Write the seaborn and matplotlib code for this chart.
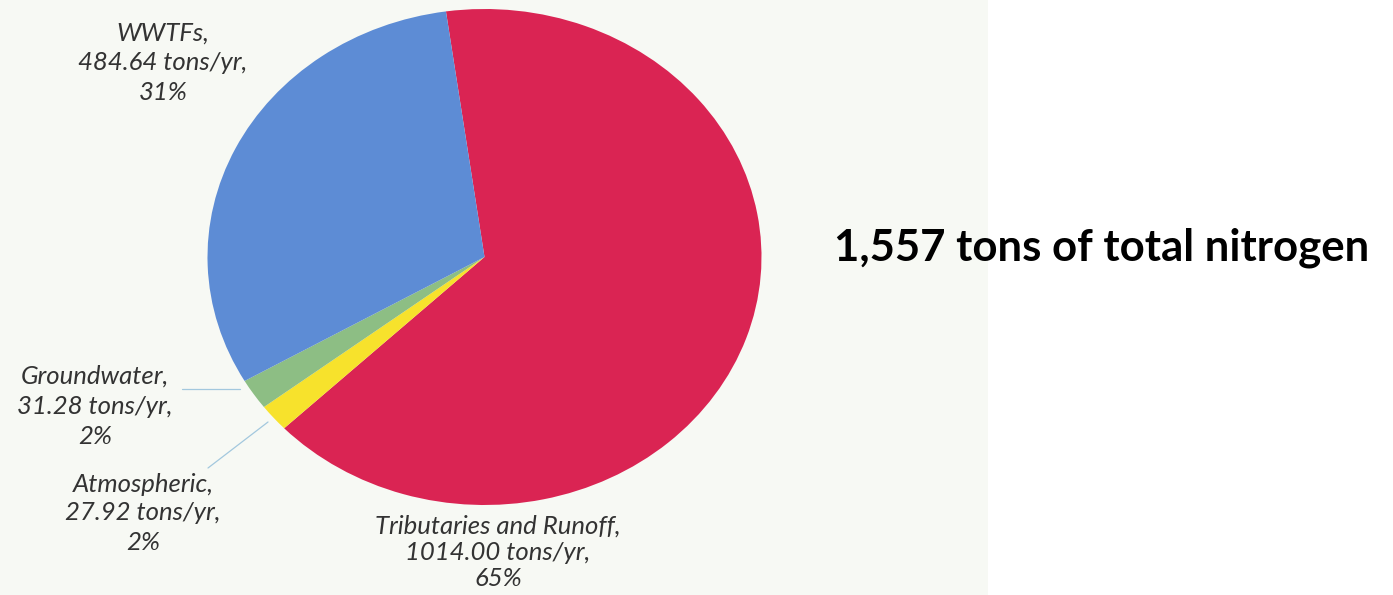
import matplotlib
matplotlib.use("Agg")
import matplotlib.pyplot as plt
from matplotlib.lines import Line2D
from matplotlib.patches import Rectangle
import seaborn as sns

# ---- data ----
sources = ["Tributaries and Runoff", "Atmospheric", "Groundwater", "WWTFs"]
tons = [1014.00, 27.92, 31.28, 484.64]
percents = [65, 2, 2, 31]
colors = ["#DA2453", "#F7E22C", "#8DBE84", "#5D8CD5"]
total_label = "1,557 tons of total nitrogen"

sns.set_theme(style="white")
plt.rcParams["font.family"] = ["Lato", "DejaVu Sans"]

W, H = 1393, 595
fig = plt.figure(figsize=(W / 100, H / 100), dpi=100)
fig.patch.set_facecolor("white")
# scanned page background on the left part
fig.add_artist(Rectangle((0, 0), 988 / W, 1, transform=fig.transFigure,
                         facecolor="#F7F9F4", edgecolor="none", zorder=0))

def fx(x):
    return x / W

def fy(y):
    return 1 - y / H

# ellipse bounding box of the pie (pixels)
x0, x1, y0, y1 = 207.5, 761.5, 9, 505
ax = fig.add_axes([fx(x0), fy(y1), (x1 - x0) / W, (y1 - y0) / H])
ax.pie(tons, colors=colors, startangle=98, counterclock=False,
       wedgeprops=dict(linewidth=0))
ax.set_aspect("auto")
ax.set_xlim(-1, 1)
ax.set_ylim(-1, 1)
ax.axis("off")
ax.patch.set_alpha(0)

# labels: (center x, first line y, line step)
label_pos = {
    "WWTFs": (163, 33, 29.5),
    "Groundwater": (95, 376, 30),
    "Atmospheric": (143, 484, 29),
    "Tributaries and Runoff": (498, 526, 26),
}
txt_color = "#333333"
for name, t, p in zip(sources, tons, percents):
    cx, y, step = label_pos[name]
    lines = [f"{name},", f"{t:.2f} tons/yr,", f"{p}%"]
    for i, line in enumerate(lines):
        fig.text(fx(cx), fy(y + i * step), line, ha="center", va="center",
                 fontsize=18.5, style="italic", color=txt_color)

# leader lines
lc = "#A3C8DE"
fig.add_artist(Line2D([fx(182), fx(240)], [fy(389), fy(389)],
                      transform=fig.transFigure, color=lc, lw=0.9))
fig.add_artist(Line2D([fx(208), fx(268)], [fy(468), fy(422)],
                      transform=fig.transFigure, color=lc, lw=0.9))

fig.text(fx(1102), fy(248), total_label, ha="center", va="center",
         fontsize=31.5, fontweight="bold", color="black")

fig.savefig("out.png", dpi=100)
